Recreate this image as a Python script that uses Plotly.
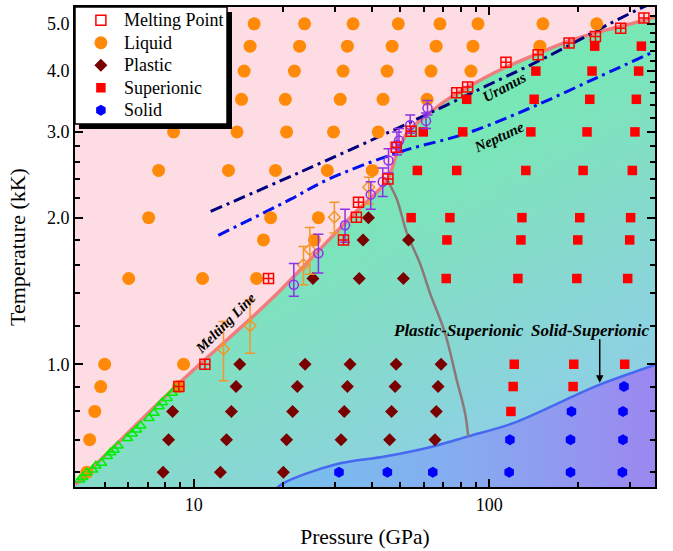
import numpy as np
import plotly.graph_objects as go

FONT = "Liberation Serif, Times New Roman, serif"

# ---------------- data (pressure in GPa, temperature in kK) ----------------
liquid_P = [16.0, 23.7, 34.6, 49.2, 68.1, 91.6, 151.9, 231.1,
            15.5, 22.8, 33.1, 46.9, 66.1, 88.1, 148.4,
            14.8, 21.9, 32.0, 45.1, 63.5, 86.7,
            14.5, 20.4, 31.3, 43.7, 61.6,
            8.54, 14.0, 20.6, 29.7, 42.1,
            7.60, 13.1, 18.9, 28.3, 40.2,
            7.03, 18.2, 26.4,
            17.2, 25.6,
            6.02, 10.7, 16.3,
            4.99, 9.23,
            4.84, 8.88,
            4.62, 4.44, 4.34]
liquid_T = [5.0, 5.0, 5.0, 5.0, 5.0, 5.0, 5.0, 5.0,
            4.5, 4.5, 4.5, 4.5, 4.5, 4.5, 4.5,
            4.0, 4.0, 4.0, 4.0, 4.0, 4.0,
            3.5, 3.5, 3.5, 3.5, 3.5,
            3.0, 3.0, 3.0, 3.0, 3.0,
            2.5, 2.5, 2.5, 2.5, 2.5,
            2.0, 2.0, 2.0,
            1.8, 1.8,
            1.5, 1.5, 1.5,
            1.0, 1.0,
            0.9, 0.9,
            0.8, 0.7, 0.6]

plastic_P = [39.0,
             37.4, 53.3,
             25.3, 36.3, 51.2,
             14.3, 23.8, 33.8, 48.4, 68.7,
             13.9, 22.4, 33.1, 48.0, 67.1,
             8.47, 13.4, 21.6, 32.3, 46.7, 66.2,
             8.21, 12.9, 20.6, 31.5, 46.0, 65.5,
             7.87, 12.3, 20.1]
plastic_T = [2.0,
             1.8, 1.8,
             1.5, 1.5, 1.5,
             1.0, 1.0, 1.0, 1.0, 1.0,
             0.9, 0.9, 0.9, 0.9, 0.9,
             0.8, 0.8, 0.8, 0.8, 0.8, 0.8,
             0.7, 0.7, 0.7, 0.7, 0.7, 0.7,
             0.6, 0.6, 0.6]

superionic_P = [227.5, 327.3,
                143.8, 222.8, 320.4,
                83.9, 141.9, 218.9, 314.8,
                59.8, 81.3, 138.3, 214.3, 311.3,
                57.1, 77.6, 133.0, 207.8, 305.1,
                54.4, 73.6, 129.0, 202.5, 301.0,
                71.9, 128.0, 199.4, 298.8,
                71.5, 125.0, 197.9, 294.2,
                121.5, 193.2, 287.4,
                120.5, 192.2,
                118.4]
superionic_T = [4.5, 4.5,
                4.0, 4.0, 4.0,
                3.5, 3.5, 3.5, 3.5,
                3.0, 3.0, 3.0, 3.0, 3.0,
                2.5, 2.5, 2.5, 2.5, 2.5,
                2.0, 2.0, 2.0, 2.0, 2.0,
                1.8, 1.8, 1.8, 1.8,
                1.5, 1.5, 1.5, 1.5,
                1.0, 1.0, 1.0,
                0.9, 0.9,
                0.8]

solid_P = [285.8,
           189.8, 283.6,
           117.5, 188.4, 283.6,
           31.0, 45.2, 64.4, 116.8, 188.4, 282.3]
solid_T = [0.9,
           0.8, 0.8,
           0.7, 0.7, 0.7,
           0.6, 0.6, 0.6, 0.6, 0.6, 0.6]

meltpt_P = [8.9, 10.9, 17.9, 32.1, 35.5, 36.1, 45.4, 48.4, 54.4, 77.6, 84.5,
            113.9, 146.4, 186.3, 228.8, 278.6, 333.9]
meltpt_T = [0.90, 1.00, 1.50, 1.80, 2.005, 2.15, 2.40, 2.79, 3.01, 3.61, 3.71,
            4.17, 4.32, 4.57, 4.71, 4.90, 5.14]

purple_P = [21.8, 26.4, 32.5, 39.7, 43.6, 45.6, 48.7, 49.5, 54.0, 61.1, 61.8]
purple_T = [1.456, 1.69, 1.93, 2.23, 2.37, 2.62, 2.82, 2.88, 3.10, 3.16, 3.36]
purple_hi = [1.61, 1.85, 2.08, 2.37, 2.53, 2.77, 3.00, 3.05, 3.25, 3.28, 3.48]
purple_lo = [1.38, 1.54, 1.78, 2.08, 2.21, 2.47, 2.69, 2.72, 2.98, 3.05, 3.25]

odiam_P = [12.6, 15.5, 23.5, 24.7, 29.9, 39.1]
odiam_T = [1.074, 1.20, 1.60, 1.72, 2.005, 2.31]
odiam_hi = [1.224, 1.356, 1.745, 1.91, 2.15, 2.42]
odiam_lo = [0.925, 1.054, 1.456, 1.53, 1.86, 2.13]

tri_P = [4.11, 4.20, 4.34, 4.54, 4.66, 4.87, 5.10, 5.23, 5.37, 5.54, 5.96,
         6.19, 6.40, 6.61, 7.05, 7.33, 7.62, 7.82, 8.13, 8.45, 8.67]
tri_T = [0.579, 0.586, 0.599, 0.607, 0.619, 0.627, 0.647, 0.659, 0.667, 0.680, 0.705,
         0.720, 0.734, 0.748, 0.775, 0.794, 0.819, 0.835, 0.852, 0.873, 0.889]

melt_line_P = [3.98, 8.88, 18.2, 33.8, 45.1, 48.8, 53.1, 61.6, 71.9, 86.1,
               108.7, 148.3, 191.8, 249.8, 341.0, 365.8]
melt_line_T = [0.566, 0.912, 1.356, 2.00, 2.39, 2.72, 3.00, 3.25, 3.49, 3.73,
               4.02, 4.36, 4.64, 4.86, 5.10, 5.17]

uranus_P = [11.4, 22.9, 49.9, 95.2, 157.0, 260.0, 323.0, 377.0]
uranus_T = [2.06, 2.48, 3.07, 3.70, 4.28, 5.03, 5.37, 5.60]

neptune_P = [12.1, 21.2, 28.2, 49.9, 83.9, 140.8, 236.6, 362.9]
neptune_T = [1.84, 2.18, 2.39, 2.73, 2.98, 3.38, 3.90, 4.39]

ps_line_P = [45.3, 48.7, 52.6, 58.3, 63.0, 70.8, 77.6, 82.8, 84.9]
ps_line_T = [2.38, 2.18, 1.86, 1.61, 1.40, 1.16, 0.929, 0.794, 0.711]

ss_line_P = [18.8, 20.1, 29.9, 44.7, 64.5, 84.9, 120.5, 192.2, 236.6, 366.0]
ss_line_T = [0.552, 0.570, 0.622, 0.647, 0.678, 0.711, 0.757, 0.859, 0.908, 0.998]

x_major = [10, 100]
x_major_text = ["10", "100"]
x_minor = [5, 6, 7, 8, 9, 20, 30, 40, 50, 60, 70, 80, 90, 200, 300]
y_major = [1, 2, 3, 4, 5]
y_major_text = ["1.0", "2.0", "3.0", "4.0", "5.0"]
y_minor = [0.6, 0.7, 0.8, 0.9, 1.2, 1.4, 1.6, 1.8, 2.2, 2.4, 2.6, 2.8, 3.2, 3.4,
           3.6, 3.8, 4.2, 4.4, 4.6, 4.8, 5.2, 5.4]

XR = [np.log10(3.96), np.log10(364.0)]
YR = [np.log10(0.5597), np.log10(5.415)]


def legend_name(text):
    return "<span style='font-size:18px'>" + text + "</span>"


fig = go.Figure()

# ---- background gradient (superionic / plastic region) ----
lx = np.linspace(XR[0], XR[1], 160)
ly = np.linspace(YR[0], YR[1], 130)
LX, LY = np.meshgrid(lx, ly)
u = (LX - XR[0]) / (XR[1] - XR[0])
v = (YR[1] - LY) / (YR[1] - YR[0])
grad = 0.4 * u + 0.6 * v
fig.add_trace(go.Heatmap(
    x=10 ** lx, y=10 ** ly, z=grad, zmin=0, zmax=1, showscale=False, hoverinfo="skip",
    colorscale=[[0, "#6cf0a8"], [0.3, "#72ecb0"], [0.45, "#7ae6b8"],
                [0.6, "#84dcc8"], [0.8, "#8cd2e0"], [1, "#92caec"]]))

# ---- liquid (pink) region bounded by melting line ----
fig.add_trace(go.Scatter(x=[3.5, 400], y=[6.5, 6.5], mode="lines", line=dict(width=0),
                         hoverinfo="skip", showlegend=False))
fig.add_trace(go.Scatter(x=melt_line_P, y=melt_line_T, mode="lines",
                         line=dict(color="rgb(240,125,125)", width=3.5, shape="spline"),
                         fill="tonexty", fillcolor="#fddde3",
                         hoverinfo="skip", showlegend=False))

# ---- solid region bounded by solid-superionic line ----
fig.add_trace(go.Scatter(x=[18.8, 366.0], y=[0.5, 0.5], mode="lines", line=dict(width=0),
                         hoverinfo="skip", showlegend=False))
fig.add_trace(go.Scatter(x=ss_line_P, y=ss_line_T, mode="lines",
                         line=dict(color="rgb(70,105,240)", width=2.5, shape="spline"),
                         fill="tonexty",
                         fillgradient=dict(type="horizontal",
                                           colorscale=[[0, "#76c2ec"], [0.5, "#86abf0"],
                                                       [1, "#9b87f0"]]),
                         hoverinfo="skip", showlegend=False))

# ---- plastic-superionic boundary ----
fig.add_trace(go.Scatter(x=ps_line_P, y=ps_line_T, mode="lines",
                         line=dict(color="rgb(140,120,120)", width=2.5, shape="spline"),
                         hoverinfo="skip", showlegend=False))

# ---- planetary isentropes ----
DASH = "12px,5px,3px,5px"
fig.add_trace(go.Scatter(x=uranus_P, y=uranus_T, mode="lines",
                         line=dict(color="#000080", width=3, dash=DASH, shape="spline"),
                         hoverinfo="skip", showlegend=False))
fig.add_trace(go.Scatter(x=neptune_P, y=neptune_T, mode="lines",
                         line=dict(color="#0010ee", width=3, dash=DASH, shape="spline"),
                         hoverinfo="skip", showlegend=False))

# ---- phase points ----
fig.add_trace(go.Scatter(x=liquid_P, y=liquid_T, mode="markers", name=legend_name("Liquid"),
                         legendrank=2,
                         marker=dict(symbol="circle", size=13, color="rgb(255,138,10)")))
fig.add_trace(go.Scatter(x=plastic_P, y=plastic_T, mode="markers", name=legend_name("Plastic"),
                         legendrank=3,
                         marker=dict(symbol="diamond", size=10, color="#7a0000")))
fig.add_trace(go.Scatter(x=superionic_P, y=superionic_T, mode="markers",
                         name=legend_name("Superionic"), legendrank=4,
                         marker=dict(symbol="square", size=9.5, color="#ff0000")))
fig.add_trace(go.Scatter(x=solid_P, y=solid_T, mode="markers", name=legend_name("Solid"),
                         legendrank=5,
                         marker=dict(symbol="hexagon", size=11, color="#0000ff")))

# ---- experimental / other melting data ----
fig.add_trace(go.Scatter(x=tri_P, y=tri_T, mode="markers", showlegend=False,
                         marker=dict(symbol="triangle-up-open", size=9, color="#00ee00",
                                     line=dict(width=1.5))))
fig.add_trace(go.Scatter(
    x=odiam_P, y=odiam_T, mode="markers", showlegend=False,
    marker=dict(symbol="diamond-open", size=9, color="rgb(245,150,40)", line=dict(width=1.5)),
    error_y=dict(type="data", symmetric=False,
                 array=[h - t for h, t in zip(odiam_hi, odiam_T)],
                 arrayminus=[t - l for l, t in zip(odiam_lo, odiam_T)],
                 color="rgb(245,150,40)", thickness=1.5, width=5)))
fig.add_trace(go.Scatter(
    x=purple_P, y=purple_T, mode="markers", showlegend=False,
    marker=dict(symbol="circle-open", size=9, color="rgb(140,50,230)", line=dict(width=1.5)),
    error_y=dict(type="data", symmetric=False,
                 array=[h - t for h, t in zip(purple_hi, purple_T)],
                 arrayminus=[t - l for l, t in zip(purple_lo, purple_T)],
                 color="rgb(140,50,230)", thickness=1.5, width=5)))
fig.add_trace(go.Scatter(x=meltpt_P, y=meltpt_T, mode="markers", showlegend=False,
                         marker=dict(symbol="square-cross-open", size=10, color="#ff0000",
                                     line=dict(width=1.5))))
# legend entry for melting points
fig.add_trace(go.Scatter(x=[None], y=[None], mode="markers", name=legend_name("Melting Point"),
                         legendrank=1,
                         marker=dict(symbol="square-open", size=10, color="#ff0000",
                                     line=dict(width=1.5))))

# ---- text labels ----
def ann(text, P, T, angle=0, size=15):
    return dict(text="<b><i>" + text + "</i></b>", x=np.log10(P), y=np.log10(T),
                xref="x", yref="y", showarrow=False, textangle=angle,
                font=dict(family=FONT, size=size, color="black"))

annotations = [
    ann("Melting Line", 12.8, 1.214, -45, 14.5),
    ann("Uranus", 112.7, 3.707, -28, 15),
    ann("Neptune", 108.0, 2.925, -25, 15),
    ann("Plastic-Superionic", 78.6, 1.173, 0, 17),
    ann("Solid-Superionic", 220.3, 1.173, 0, 17),
    dict(text="", x=np.log10(236.6), y=np.log10(0.916), xref="x", yref="y",
         showarrow=True, ax=0, ay=-45, arrowhead=2, arrowsize=1, arrowwidth=1.5,
         arrowcolor="black"),
]

# ---- legend box with drop shadow ----
shapes = [
    dict(type="rect", xref="paper", yref="paper", x0=0.0069, x1=0.2707, y0=0.7458, y1=0.9896,
         fillcolor="black", line=dict(width=0), layer="above"),
    dict(type="rect", xref="paper", yref="paper", x0=0.0, x1=0.2621, y0=0.7563, y1=1.0,
         fillcolor="white", line=dict(color="black", width=1.5), layer="above"),
]

fig.update_layout(
    width=673, height=551,
    margin=dict(l=75, r=18, t=7, b=64, autoexpand=False),
    paper_bgcolor="white", plot_bgcolor="white",
    font=dict(family=FONT, color="black", size=18),
    showlegend=True,
    legend=dict(x=0.005, y=1.0062, xanchor="left", yanchor="top", traceorder="normal",
                bgcolor="rgba(0,0,0,0)", borderwidth=0, itemwidth=36,
                font=dict(family=FONT, size=15, color="black"),
                itemclick=False),
    annotations=annotations,
    shapes=shapes,
)

fig.update_xaxes(
    type="log", range=XR, tickvals=x_major, ticktext=x_major_text,
    ticks="inside", ticklen=8, tickwidth=1.5, tickcolor="black",
    minor=dict(tickvals=x_minor, ticks="inside", ticklen=5, tickwidth=1.5, tickcolor="black"),
    showline=True, linewidth=2, linecolor="black", mirror="ticks",
    showgrid=False, zeroline=False, automargin=False,
    tickfont=dict(family=FONT, size=18, color="black"),
    title=dict(text="Pressure (GPa)", font=dict(family=FONT, size=21.5, color="black")),
)
fig.update_yaxes(
    type="log", range=YR, tickvals=y_major, ticktext=y_major_text,
    ticks="inside", ticklen=8, tickwidth=1.5, tickcolor="black",
    minor=dict(tickvals=y_minor, ticks="inside", ticklen=5, tickwidth=1.5, tickcolor="black"),
    showline=True, linewidth=2, linecolor="black", mirror="ticks",
    showgrid=False, zeroline=False, automargin=False,
    tickfont=dict(family=FONT, size=18, color="black"),
    title=dict(text="Temperature (kK)", font=dict(family=FONT, size=22, color="black")),
)

fig.write_html("out.html")
